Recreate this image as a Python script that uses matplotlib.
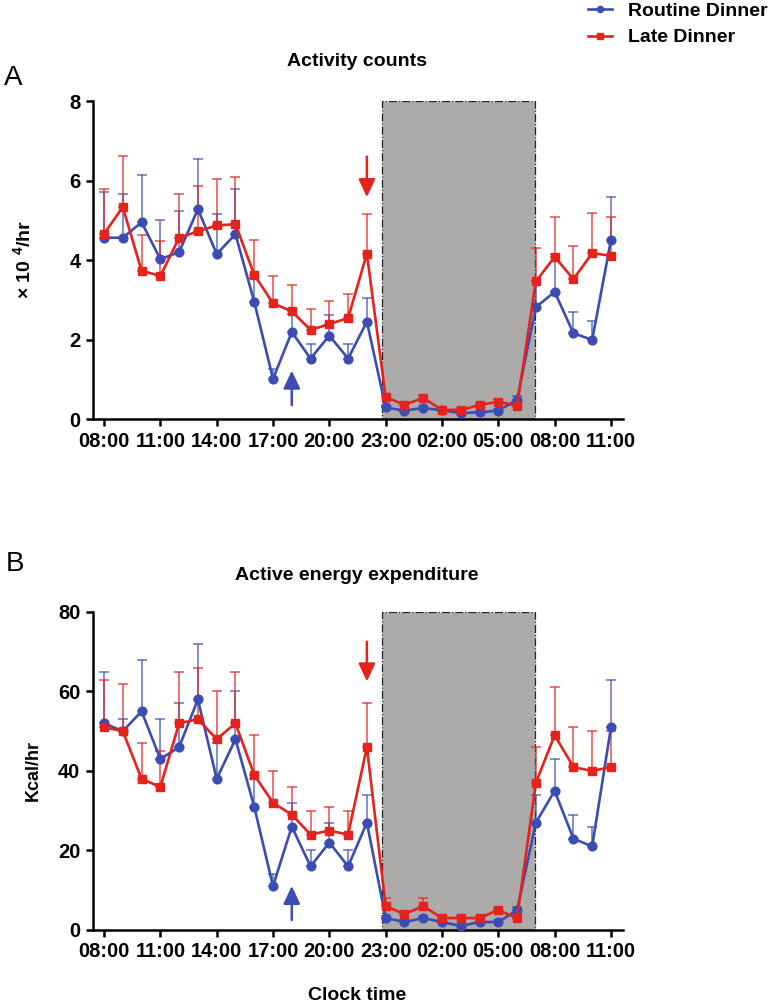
import numpy as np
import matplotlib
matplotlib.use('Agg')
import matplotlib.pyplot as plt
from matplotlib.patches import Rectangle

plt.rcParams['font.family'] = ['Liberation Sans', 'DejaVu Sans']
plt.rcParams['font.weight'] = 'bold'
plt.rcParams['axes.labelweight'] = 'bold'
plt.rcParams['mathtext.fontset'] = 'custom'
plt.rcParams['mathtext.rm'] = 'Liberation Sans:bold'
plt.rcParams['mathtext.bf'] = 'Liberation Sans:bold'

# hours since 08:00 (08:00 day 1 .. 11:00 day 2)
hours = np.arange(28)
tick_hours = np.arange(0, 28, 3)
tick_labels = ['08:00', '11:00', '14:00', '17:00', '20:00',
               '23:00', '02:00', '05:00', '08:00', '11:00']
series_names = ['Routine Dinner', 'Late Dinner']

# panel A : activity counts (x 10^4 / hr), mean and upper SEM
act_routine = [4.56, 4.56, 4.95, 4.02, 4.20, 5.28, 4.15, 4.65, 2.95, 1.01,
               2.19, 1.52, 2.10, 1.52, 2.45, 0.29, 0.21, 0.28, 0.22, 0.15,
               0.17, 0.21, 0.49, 2.81, 3.20, 2.16, 1.99, 4.50]
act_routine_sem = [1.14, 1.11, 1.20, 0.98, 1.03, 1.27, 1.01, 1.13, 0.60, 0.26,
                   0.45, 0.36, 0.51, 0.36, 0.60, 0.06, 0.05, 0.05, 0.04, 0.04,
                   0.04, 0.05, 0.10, 0.65, 0.95, 0.53, 0.48, 1.09]
act_late = [4.66, 5.33, 3.73, 3.60, 4.56, 4.72, 4.87, 4.90, 3.63, 2.91,
            2.71, 2.24, 2.39, 2.54, 4.16, 0.55, 0.36, 0.53, 0.23, 0.23,
            0.35, 0.44, 0.33, 3.46, 4.08, 3.52, 4.17, 4.11]
act_late_sem = [1.13, 1.29, 0.89, 0.87, 1.09, 1.15, 1.17, 1.20, 0.87, 0.69,
                0.66, 0.54, 0.57, 0.61, 1.01, 0.07, 0.05, 0.07, 0.04, 0.04,
                0.05, 0.06, 0.05, 0.84, 0.99, 0.84, 1.01, 0.98]

# panel B : active energy expenditure (Kcal/hr)
aee_routine = [52, 50, 55, 43, 46, 58, 38, 48, 31, 11, 26, 16, 22, 16, 27,
               3, 2, 3, 2, 1, 2, 2, 5, 27, 35, 23, 21, 51]
aee_routine_sem = [13, 3, 13, 10, 11, 14, 9, 12, 7, 3, 6, 4, 5, 4, 7,
                   0.6, 0.5, 0.6, 0.5, 0.4, 0.5, 0.5, 0.8, 7, 8, 6, 5, 12]
aee_late = [51, 50, 38, 36, 52, 53, 48, 52, 39, 32, 29, 24, 25, 24, 46,
            6, 4, 6, 3, 3, 3, 5, 3, 37, 49, 41, 40, 41]
aee_late_sem = [12, 12, 9, 9, 13, 13, 12, 13, 10, 8, 7, 6, 6, 6, 11,
                2, 0.5, 2, 0.4, 0.4, 0.4, 0.6, 0.4, 9, 12, 10, 10, 9]

night_start, night_end = 14.8, 22.95

BLUE = '#3b4db3'
RED = '#e5221c'
GRAY = '#adaba9'


def panel(ax, rm, rs, lm, ls, ymax, ystep, ylabel, up, down, lblx, lblsize):
    ax.add_patch(Rectangle((night_start, 0), night_end - night_start, ymax,
                           facecolor=GRAY, edgecolor='#222222', linestyle='-.',
                           lw=0.9, zorder=1))
    z = np.zeros(len(hours))
    ax.errorbar(hours, rm, yerr=[z, rs], fmt='none', ecolor=BLUE, elinewidth=1.1,
                capsize=3.8, capthick=1.1, alpha=0.8, zorder=2)
    ax.errorbar(hours, lm, yerr=[z, ls], fmt='none', ecolor=RED, elinewidth=1.1,
                capsize=3.8, capthick=1.1, alpha=0.8, zorder=2)
    lb, = ax.plot(hours, rm, '-o', color=BLUE, lw=1.9, ms=6.3, zorder=3)
    lr, = ax.plot(hours, lm, '-s', color=RED, lw=1.9, ms=6.3, zorder=4)

    head = '-|>,head_length=0.6,head_width=0.28'
    ax.annotate('', xy=(up[0], up[2]), xytext=(up[0], up[1]),
                arrowprops=dict(arrowstyle=head, color=BLUE, lw=1.8,
                                mutation_scale=18, shrinkA=0, shrinkB=0), zorder=5)
    ax.annotate('', xy=(down[0], down[2]), xytext=(down[0], down[1]),
                arrowprops=dict(arrowstyle=head, color=RED, lw=1.8,
                                mutation_scale=18, shrinkA=0, shrinkB=0), zorder=5)

    ax.set_xlim(-0.59, 27.64)
    ax.set_ylim(0, ymax)
    ax.set_xticks(tick_hours)
    ax.set_xticklabels(tick_labels)
    ax.set_yticks(np.arange(0, ymax + 0.1, ystep))
    for s in ['top', 'right']:
        ax.spines[s].set_visible(False)
    for s in ['left', 'bottom']:
        ax.spines[s].set_linewidth(1.8)
    ax.tick_params(direction='out', length=5, width=1.8, labelsize=14.5, pad=4)
    ax.set_ylabel(ylabel, fontsize=lblsize, fontweight='bold')
    ax.yaxis.set_label_coords(lblx, 0.5)
    return lb, lr


fig = plt.figure(figsize=(7.76, 10.08), dpi=100)
axA = fig.add_axes([0.1198, 0.5843, 0.683, 0.3155])
axB = fig.add_axes([0.1198, 0.0774, 0.683, 0.3155])

lb, lr = panel(axA, act_routine, act_routine_sem, act_late, act_late_sem,
               8, 2, r'× 10 $^{4}$/hr', (10, 0.35, 1.22), (14, 6.6, 5.58), -0.11, 14)
panel(axB, aee_routine, aee_routine_sem, aee_late, aee_late_sem,
      80, 20, 'Kcal/hr', (10, 2.5, 11.1), (14, 72.5, 62.5), -0.096, 13)

fig.text(357 / 776, 1 - 61 / 1008, 'Activity counts', ha='center', va='center', fontsize=14)
fig.text(357 / 776, 1 - 576 / 1008, 'Active energy expenditure', ha='center', va='center', fontsize=14)
fig.text(357 / 776, 1 - 995 / 1008, 'Clock time', ha='center', va='center', fontsize=14)
fig.text(4 / 776, 1 - 78 / 1008, 'A', ha='left', va='center', fontsize=20, fontweight='normal')
fig.text(6 / 776, 1 - 564 / 1008, 'B', ha='left', va='center', fontsize=20, fontweight='normal')

fig.legend([lb, lr], series_names, loc='upper left',
           bbox_to_anchor=(588 / 776, 1 - 2 / 1008), frameon=False, fontsize=14,
           handlelength=1.25, handletextpad=0.8, labelspacing=0.47,
           borderaxespad=0, borderpad=0, markerscale=0.7)

fig.savefig('out.png', dpi=100, facecolor='white')
